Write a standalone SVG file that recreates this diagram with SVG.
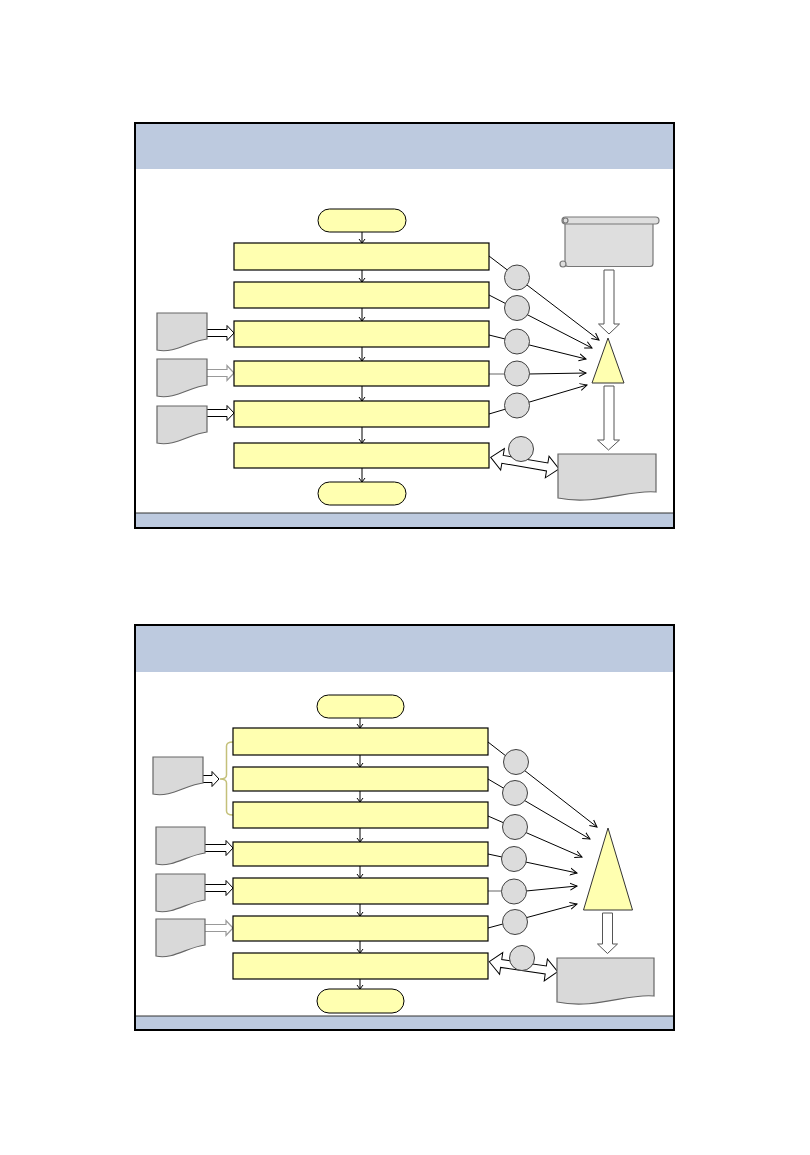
<svg xmlns="http://www.w3.org/2000/svg" width="810" height="1155" viewBox="0 0 810 1155">
<style>
.frame{fill:#fff;stroke:#000;stroke-width:2}
.band{fill:#bdcadf}
.sep{stroke:#333;stroke-width:1}
.term{fill:#ffffb0;stroke:#000;stroke-width:1}
.box{fill:#ffffb0;stroke:#000;stroke-width:1.2}
.doc{fill:#d9d9d9;stroke:#666;stroke-width:1.2}
.circ{fill:#dcdcdc;stroke:#404040;stroke-width:1}
.tri{fill:#ffffb0;stroke:#333;stroke-width:1}
.barrow{fill:#fff;stroke:#000;stroke-width:1}
.garrow{fill:#fff;stroke:#999;stroke-width:1.2}
.darrow{fill:#fff;stroke:#555;stroke-width:1}
.flow{stroke:#000;stroke-width:1;fill:none;marker-end:url(#sm)}
.ln{stroke:#000;stroke-width:1;fill:none}
.gln{stroke:#999;stroke-width:1.5;fill:none}
.pt{stroke:#000;stroke-width:1;fill:none;marker-end:url(#lg)}
.brace{fill:none;stroke:#c4c07a;stroke-width:1.5}
.scroll{fill:#dedede;stroke:#777;stroke-width:1.2}
</style>
<defs>
<marker id="sm" markerUnits="userSpaceOnUse" markerWidth="8" markerHeight="8" refX="5" refY="4" orient="auto">
<path d="M1,1 L5,4 L1,7" fill="none" stroke="#000" stroke-width="1"/>
</marker>
<marker id="lg" markerUnits="userSpaceOnUse" markerWidth="10" markerHeight="10" refX="7" refY="5" orient="auto">
<path d="M0,1.5 L7,5 L0,8.5" fill="none" stroke="#000" stroke-width="1"/>
</marker>
</defs>

<!-- Slide 1 -->
<g id="slide1">
<rect class="frame" x="135" y="123" width="539" height="405"/>
<rect class="band" x="136" y="124" width="537" height="45"/>
<rect class="band" x="136" y="513" width="537" height="14"/>
<line class="sep" x1="136" y1="513" x2="673" y2="513"/>
</g>

<g id="connectors1">
<line class="flow" x1="362" y1="232" x2="362" y2="243"/>
<line class="flow" x1="362" y1="270" x2="362" y2="282"/>
<line class="flow" x1="362" y1="308" x2="362" y2="321"/>
<line class="flow" x1="362" y1="347" x2="362" y2="361"/>
<line class="flow" x1="362" y1="386" x2="362" y2="401"/>
<line class="flow" x1="362" y1="427" x2="362" y2="443"/>
<line class="flow" x1="362" y1="468" x2="362" y2="482"/>
<line class="pt" x1="489" y1="256" x2="599" y2="340"/>
<line class="pt" x1="489" y1="295" x2="592" y2="348"/>
<line class="pt" x1="489" y1="335" x2="586" y2="359"/>
<line class="gln" x1="489" y1="374" x2="505" y2="374"/>
<line class="pt" x1="528" y1="374" x2="586" y2="373"/>
<line class="pt" x1="489" y1="414" x2="587" y2="385"/>
<path class="barrow" d="M207,329.5 H227 V325.5 L234,333 L227,340.5 V336.5 H207"/>
<path class="garrow" d="M207,369.5 H227 V365.5 L234,373 L227,380.5 V376.5 H207"/>
<path class="barrow" d="M207,409.5 H227 V405.5 L234,413 L227,420.5 V416.5 H207"/>
<path class="darrow" d="M604,270 H614 V324 H619.5 L609,334 L598.5,324 H604 Z"/>
<path class="darrow" d="M604,386 H614 V440 H619.5 L608.5,450 L597.5,440 H604 Z"/>
<path class="barrow" transform="translate(490.7,457.3) rotate(9.7)" d="M0,0 L12,-11 V-4 H57.3 V-11 L69.3,0 L57.3,11 V4 H12 V11 Z"/>
</g>

<g id="s1-start"><rect class="term" x="318" y="209" width="88" height="23" rx="11.5"/></g>
<g id="s1-box1"><rect class="box" x="234" y="243" width="255" height="27"/></g>
<g id="s1-box2"><rect class="box" x="234" y="282" width="255" height="26"/></g>
<g id="s1-box3"><rect class="box" x="234" y="321" width="255" height="26"/></g>
<g id="s1-box4"><rect class="box" x="234" y="361" width="255" height="25"/></g>
<g id="s1-box5"><rect class="box" x="234" y="401" width="255" height="26"/></g>
<g id="s1-box6"><rect class="box" x="234" y="443" width="255" height="25"/></g>
<g id="s1-end"><rect class="term" x="318" y="482" width="88" height="23" rx="11.5"/></g>
<g id="s1-doc1"><path class="doc" d="M157,313 H207 V339 C190,341 174,354 157,350 Z"/></g>
<g id="s1-doc2"><path class="doc" d="M157,359 H207 V385 C190,387 174,400 157,396 Z"/></g>
<g id="s1-doc3"><path class="doc" d="M157,406 H207 V432 C190,434 174,447 157,443 Z"/></g>
<g id="s1-c1"><circle class="circ" cx="517" cy="277.5" r="12.5"/></g>
<g id="s1-c2"><circle class="circ" cx="517" cy="308" r="12.5"/></g>
<g id="s1-c3"><circle class="circ" cx="517" cy="341.5" r="12.5"/></g>
<g id="s1-c4"><circle class="circ" cx="517" cy="373.5" r="12.5"/></g>
<g id="s1-c5"><circle class="circ" cx="517" cy="405.5" r="12.5"/></g>
<g id="s1-c6"><circle class="circ" cx="521" cy="449" r="12.5"/></g>
<g id="s1-tri"><polygon class="tri" points="608,338 592,383 624,383"/></g>
<g id="s1-scroll">
<rect class="scroll" x="565" y="220" width="88" height="46.5" rx="3"/>
<rect class="scroll" x="562" y="217" width="97" height="7" rx="3.5"/>
<circle class="scroll" cx="565.5" cy="220.5" r="2.5"/>
<circle class="scroll" cx="563" cy="264" r="3"/>
</g>
<g id="s1-report"><path class="doc" d="M558,454 H656 V492 C630,489 596,506 558,498 Z"/></g>

<!-- Slide 2 -->
<g id="slide2">
<rect class="frame" x="135" y="625" width="539" height="405"/>
<rect class="band" x="136" y="626" width="537" height="46"/>
<rect class="band" x="136" y="1016" width="537" height="13"/>
<line class="sep" x1="136" y1="1016" x2="673" y2="1016"/>
</g>

<g id="connectors2">
<line class="flow" x1="360" y1="718" x2="360" y2="728"/>
<line class="flow" x1="360" y1="755" x2="360" y2="767"/>
<line class="flow" x1="360" y1="791" x2="360" y2="802"/>
<line class="flow" x1="360" y1="828" x2="360" y2="842"/>
<line class="flow" x1="360" y1="866" x2="360" y2="878"/>
<line class="flow" x1="360" y1="904" x2="360" y2="916"/>
<line class="flow" x1="360" y1="941" x2="360" y2="953"/>
<line class="flow" x1="360" y1="979" x2="360" y2="989"/>
<line class="pt" x1="488" y1="742" x2="597" y2="827"/>
<line class="pt" x1="488" y1="779" x2="590" y2="839"/>
<line class="pt" x1="488" y1="816" x2="582" y2="857"/>
<line class="pt" x1="488" y1="854" x2="577" y2="873"/>
<line class="gln" x1="488" y1="891" x2="502" y2="891"/>
<line class="pt" x1="526" y1="891" x2="577" y2="886"/>
<line class="pt" x1="488" y1="928" x2="577" y2="904"/>
<path class="brace" d="M233,742 Q226.5,742 226.5,746 V775 Q226.5,779 220,779 Q226.5,779 226.5,783 V811 Q226.5,815 233,815"/>
<path class="barrow" d="M203,775.5 H212 V771.5 L219,779 L212,786.5 V782.5 H203"/>
<path class="barrow" d="M205,844.5 H226 V840.5 L233,848 L226,855.5 V851.5 H205"/>
<path class="barrow" d="M205,884.5 H226 V880.5 L233,888 L226,895.5 V891.5 H205"/>
<path class="garrow" d="M205,924.5 H226 V920.5 L233,928 L226,935.5 V931.5 H205"/>
<path class="darrow" d="M602.5,913 H612.5 V944 H617.5 L607.5,953.5 L597.5,944 H602.5 Z"/>
<path class="barrow" transform="translate(489.3,961.7) rotate(8.3)" d="M0,0 L12,-11 V-4 H57.1 V-11 L69.1,0 L57.1,11 V4 H12 V11 Z"/>
</g>

<g id="s2-start"><rect class="term" x="317" y="695" width="87" height="23" rx="11.5"/></g>
<g id="s2-box1"><rect class="box" x="233" y="728" width="255" height="27"/></g>
<g id="s2-box2"><rect class="box" x="233" y="767" width="255" height="24"/></g>
<g id="s2-box3"><rect class="box" x="233" y="802" width="255" height="26"/></g>
<g id="s2-box4"><rect class="box" x="233" y="842" width="255" height="24"/></g>
<g id="s2-box5"><rect class="box" x="233" y="878" width="255" height="26"/></g>
<g id="s2-box6"><rect class="box" x="233" y="916" width="255" height="25"/></g>
<g id="s2-box7"><rect class="box" x="233" y="953" width="255" height="26"/></g>
<g id="s2-end"><rect class="term" x="317" y="989" width="87" height="24" rx="12"/></g>
<g id="s2-doc1"><path class="doc" d="M153,757 H203 V783 C186,785 170,798 153,794 Z"/></g>
<g id="s2-doc2"><path class="doc" d="M156,827 H205 V853 C188,855 172,868 156,864 Z"/></g>
<g id="s2-doc3"><path class="doc" d="M156,874 H205 V900 C188,902 172,915 156,911 Z"/></g>
<g id="s2-doc4"><path class="doc" d="M156,919 H205 V945 C188,947 172,960 156,956 Z"/></g>
<g id="s2-c1"><circle class="circ" cx="516" cy="762" r="12.5"/></g>
<g id="s2-c2"><circle class="circ" cx="515" cy="793" r="12.5"/></g>
<g id="s2-c3"><circle class="circ" cx="515" cy="827" r="12.5"/></g>
<g id="s2-c4"><circle class="circ" cx="514" cy="859" r="12.5"/></g>
<g id="s2-c5"><circle class="circ" cx="514" cy="891.5" r="12.5"/></g>
<g id="s2-c6"><circle class="circ" cx="515" cy="922" r="12.5"/></g>
<g id="s2-c7"><circle class="circ" cx="522" cy="958" r="12.5"/></g>
<g id="s2-tri"><polygon class="tri" points="608,828 583.5,910 632.5,910"/></g>
<g id="s2-report"><path class="doc" d="M557,958 H654 V996 C628,993 595,1010 557,1002 Z"/></g>
</svg>
